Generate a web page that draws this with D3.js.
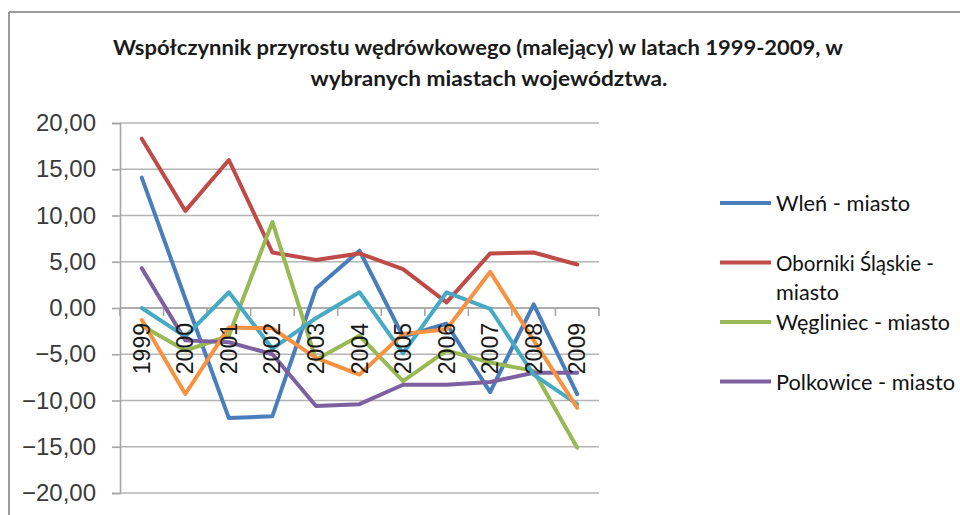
<!DOCTYPE html>
<html>
<head>
<meta charset="utf-8">
<script src="https://cdn.jsdelivr.net/npm/d3@7"></script>
<style>
  html, body { margin: 0; padding: 0; background: #fff; }
  svg { display: block; }
</style>
</head>
<body>
<svg id="chart" width="960" height="515"></svg>
<script>
// Lata (kategorie osi X)
const years = ["1999","2000","2001","2002","2003","2004","2005","2006","2007","2008","2009"];

// Współczynnik przyrostu wędrówkowego dla poszczególnych miast
const wlen       = [14.1, 1.0, -11.9, -11.7, 2.1, 6.2, -3.1, -1.7, -9.1, 0.4, -9.3];
const oborniki   = [18.3, 10.5, 16.0, 6.0, 5.2, 5.9, 4.2, 0.6, 5.9, 6.0, 4.7];
const wegliniec  = [-1.9, -4.6, -3.0, 9.3, -5.6, -3.0, -7.9, -4.6, -5.9, -6.8, -15.1];
const polkowice  = [4.3, -3.5, -3.7, -5.0, -10.6, -10.4, -8.3, -8.3, -8.0, -7.0, -7.0];
const seria5     = [0.0, -3.1, 1.7, -4.4, -1.1, 1.7, -4.9, 1.7, -0.1, -7.2, -10.4];
const seria6     = [-1.3, -9.3, -2.1, -2.2, -5.4, -7.2, -2.8, -2.3, 3.9, -3.5, -10.8];

// Podpisy osi Y
const yTicks = [20, 15, 10, 5, 0, -5, -10, -15, -20];

const titleLines = [
  "Współczynnik przyrostu wędrówkowego (malejący) w latach 1999-2009, w",
  "wybranych miastach województwa."
];

const series = [
  { name: "Wleń - miasto",              values: wlen,      color: "#4A7EBB", legend: true },
  { name: "Oborniki Śląskie - miasto",  values: oborniki,  color: "#BE4B48", legend: true },
  { name: "Węgliniec - miasto",         values: wegliniec, color: "#98B954", legend: true },
  { name: "Polkowice - miasto",         values: polkowice, color: "#7D60A0", legend: true },
  { name: "Seria 5",                    values: seria5,    color: "#46AAC5", legend: false },
  { name: "Seria 6",                    values: seria6,    color: "#F69240", legend: false }
];

const svg = d3.select("#chart");

// Ramka wykresu
svg.append("line").attr("x1", 9).attr("x2", 960).attr("y1", 12).attr("y2", 12)
  .attr("stroke", "#9a9a9a").attr("stroke-width", 2);
svg.append("line").attr("x1", 9).attr("x2", 9).attr("y1", 12).attr("y2", 515)
  .attr("stroke", "#9a9a9a").attr("stroke-width", 2);

// Tytuł
const titleG = svg.append("g")
  .attr("font-family", "Lato, 'Open Sans', sans-serif")
  .attr("font-weight", "bold")
  .attr("font-size", 20)
  .attr("fill", "#1a1a1a")
  .attr("text-anchor", "middle");
titleG.append("text").attr("x", 478).attr("y", 55)
  .attr("textLength", 730).attr("lengthAdjust", "spacingAndGlyphs")
  .text(titleLines[0]);
titleG.append("text").attr("x", 489).attr("y", 86)
  .attr("textLength", 357).attr("lengthAdjust", "spacingAndGlyphs")
  .text(titleLines[1]);

// Skale
const plotLeft = 120, plotRight = 599, plotTop = 123, plotBottom = 493;
const x = d3.scaleBand().domain(years).range([plotLeft, plotRight]).padding(0);
const y = d3.scaleLinear().domain([-20, 20]).range([plotBottom, plotTop]);

const pl = d3.formatLocale({ decimal: ",", thousands: " ", grouping: [3], currency: ["", " zł"] });
const fmt = pl.format(".2f");

// Linie siatki
svg.append("g")
  .selectAll("line")
  .data(yTicks)
  .join("line")
  .attr("x1", plotLeft).attr("x2", plotRight)
  .attr("y1", d => y(d)).attr("y2", d => y(d))
  .attr("stroke", "#b4b4b4").attr("stroke-width", 1.6);

// Oś Y
const yAxis = svg.append("g")
  .attr("transform", `translate(${plotLeft},0)`)
  .call(d3.axisLeft(y).tickValues(yTicks).tickFormat(fmt).tickSize(8).tickPadding(16));
yAxis.select(".domain").attr("stroke", "#a6a6a6").attr("stroke-width", 1.6);
yAxis.selectAll(".tick line").attr("stroke", "#a6a6a6").attr("stroke-width", 1.6);
yAxis.selectAll(".tick text")
  .attr("font-family", "'Liberation Sans', Arial, sans-serif")
  .attr("font-size", 24)
  .attr("fill", "#3a3a3a");

// Oś X na poziomie zera
const y0 = y(0);
svg.append("line").attr("x1", plotLeft).attr("x2", plotRight).attr("y1", y0).attr("y2", y0)
  .attr("stroke", "#a6a6a6").attr("stroke-width", 1.6);
const boundaries = years.map(d => x(d)).concat([x(years[years.length - 1]) + x.step()]);
svg.append("g")
  .selectAll("line")
  .data(boundaries)
  .join("line")
  .attr("x1", d => d).attr("x2", d => d)
  .attr("y1", y0).attr("y2", y0 + 8)
  .attr("stroke", "#a6a6a6").attr("stroke-width", 1.6);

// Serie danych
const line = d3.line()
  .x((d, i) => x(years[i]) + x.bandwidth() / 2)
  .y(d => y(d));

svg.append("g")
  .selectAll("path")
  .data(series)
  .join("path")
  .attr("d", d => line(d.values))
  .attr("fill", "none")
  .attr("stroke", d => d.color)
  .attr("stroke-width", 4)
  .attr("stroke-linejoin", "round")
  .attr("stroke-linecap", "round");

// Podpisy kategorii (obrócone)
svg.append("g")
  .selectAll("text")
  .data(years)
  .join("text")
  .attr("transform", d => `translate(${x(d) + x.bandwidth() / 2},${y0 + 15}) rotate(-90)`)
  .attr("text-anchor", "end")
  .attr("dominant-baseline", "central")
  .attr("font-family", "'Liberation Sans', Arial, sans-serif")
  .attr("font-size", 23)
  .attr("fill", "#1a1a1a")
  .text(d => d);

// Legenda
const legendItems = series.filter(s => s.legend);
const legendLines = [
  [["Wleń - miasto", 134]],
  [["Oborniki Śląskie -", 158], ["miasto", 63]],
  [["Węgliniec - miasto", 174]],
  [["Polkowice - miasto", 179]]
];
const lg = svg.append("g");
legendItems.forEach((s, i) => {
  const ly = 203 + i * 59.5;
  lg.append("line")
    .attr("x1", 720).attr("x2", 771)
    .attr("y1", ly).attr("y2", ly)
    .attr("stroke", s.color).attr("stroke-width", 4);
  legendLines[i].forEach(([t, w], j) => {
    lg.append("text")
      .attr("x", 776).attr("y", ly + j * 29)
      .attr("dominant-baseline", "central")
      .attr("font-family", "Lato, 'Open Sans', sans-serif")
      .attr("font-size", 21.5)
      .attr("textLength", w).attr("lengthAdjust", "spacingAndGlyphs")
      .attr("fill", "#111")
      .text(t);
  });
});
</script>
</body>
</html>
